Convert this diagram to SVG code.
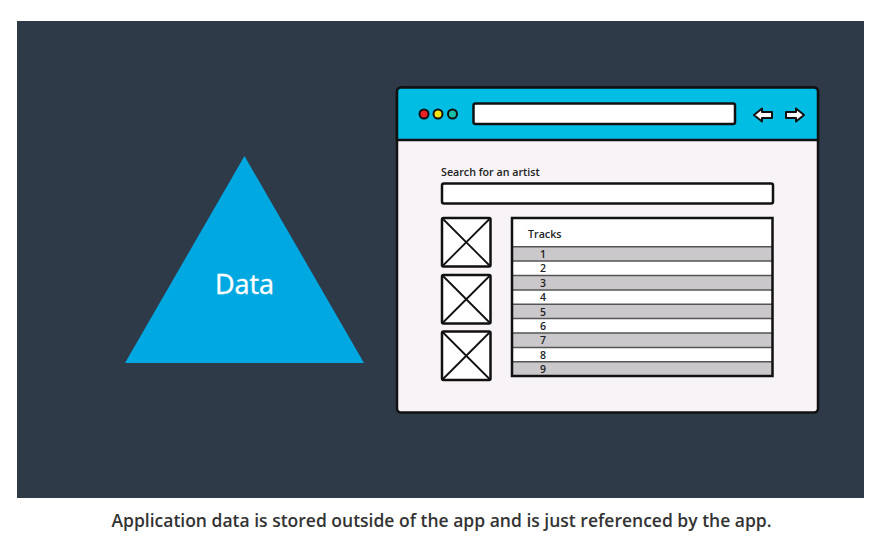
<svg xmlns="http://www.w3.org/2000/svg" width="887" height="545" viewBox="0 0 887 545">
<style>
.ln{stroke:#111;stroke-width:2.5;}
.num{font-family:"Open Sans","Noto Sans",sans-serif;font-size:10.5px;font-weight:600;fill:#222;text-anchor:middle;}
.lbl{font-family:"Open Sans","Noto Sans",sans-serif;font-size:10.7px;font-weight:600;fill:#222;}
.odd{fill:#cbc8cb;}
.even{fill:#ffffff;}
.sep{stroke:#555;stroke-width:1.5;}
.img{fill:#fff;stroke:#111;stroke-width:2.5;}
.x{stroke:#111;stroke-width:1.8;}
</style>
<rect x="0" y="0" width="887" height="545" fill="#ffffff"/>
<rect x="17" y="21" width="847" height="477" fill="#2f3a48"/>
<g id="data">
<polygon points="244.5,156 125,363 364,363" fill="#00a8e2"/>
<text x="244.5" y="294" text-anchor="middle" font-family="'Open Sans','Noto Sans',sans-serif" font-size="27" fill="#ffffff" stroke="#ffffff" stroke-width="0.4">Data</text>
</g>
<g id="browser">
<rect x="397" y="87.5" width="421" height="325" rx="4" fill="#f7f3f7" class="ln"/>
<path d="M401,87.5 H814 A4,4 0 0 1 818,91.5 V140 H397 V91.5 A4,4 0 0 1 401,87.5 Z" fill="#00bde3" class="ln"/>
<rect x="473.5" y="103.5" width="261.5" height="20.5" rx="2" fill="#ffffff" class="ln"/>
<circle cx="424" cy="114" r="4.5" fill="#e8202a" stroke="#111" stroke-width="2"/>
<circle cx="438" cy="114" r="4.5" fill="#f4e511" stroke="#111" stroke-width="2"/>
<circle cx="452.5" cy="114" r="4.5" fill="#1bbfa6" stroke="#111" stroke-width="2"/>
<path d="M754,115 L762,108.5 V112 H772 V118 H762 V121.5 Z" fill="#fff" stroke="#111" stroke-width="2" stroke-linejoin="round"/>
<path d="M804,115 L796,108.5 V112 H786 V118 H796 V121.5 Z" fill="#fff" stroke="#111" stroke-width="2" stroke-linejoin="round"/>
<text class="lbl" x="441" y="176">Search for an artist</text>
<rect x="442" y="183.5" width="331" height="20" rx="2" fill="#ffffff" class="ln"/>
</g>
<g id="images">
<rect class="img" x="442" y="218" width="48.5" height="48.5" rx="1.5"/>
<path class="x" d="M442,218 L490.5,266.5 M490.5,218 L442,266.5"/>
<rect class="img" x="442" y="275" width="48.5" height="48.5" rx="1.5"/>
<path class="x" d="M442,275 L490.5,323.5 M490.5,275 L442,323.5"/>
<rect class="img" x="442" y="331.5" width="48.5" height="48.5" rx="1.5"/>
<path class="x" d="M442,331.5 L490.5,380 M490.5,331.5 L442,380"/>
</g>
<g id="tracks">
<rect x="512" y="218" width="260.5" height="158" fill="#ffffff"/>
<rect class="odd" x="512" y="246.7" width="260.5" height="14.4"/>
<rect class="odd" x="512" y="275.5" width="260.5" height="14.4"/>
<rect class="odd" x="512" y="304.2" width="260.5" height="14.4"/>
<rect class="odd" x="512" y="333" width="260.5" height="14.4"/>
<rect class="odd" x="512" y="361.7" width="260.5" height="14.3"/>
<path class="sep" d="M512,246.7 H772.5 M512,261.1 H772.5 M512,275.5 H772.5 M512,289.9 H772.5 M512,304.2 H772.5 M512,318.6 H772.5 M512,333 H772.5 M512,347.4 H772.5 M512,361.7 H772.5"/>
<rect x="512" y="218" width="260.5" height="158" fill="none" class="ln"/>
<text class="lbl" x="528" y="238">Tracks</text>
<text class="num" x="543" y="258">1</text>
<text class="num" x="543" y="272.4">2</text>
<text class="num" x="543" y="286.8">3</text>
<text class="num" x="543" y="301.1">4</text>
<text class="num" x="543" y="315.5">5</text>
<text class="num" x="543" y="329.9">6</text>
<text class="num" x="543" y="344.3">7</text>
<text class="num" x="543" y="358.6">8</text>
<text class="num" x="543" y="373">9</text>
</g>
<text x="441.5" y="527" text-anchor="middle" font-family="'Open Sans','Noto Sans',sans-serif" font-size="17.5" font-weight="600" fill="#333333">Application data is stored outside of the app and is just referenced by the app.</text>
</svg>
